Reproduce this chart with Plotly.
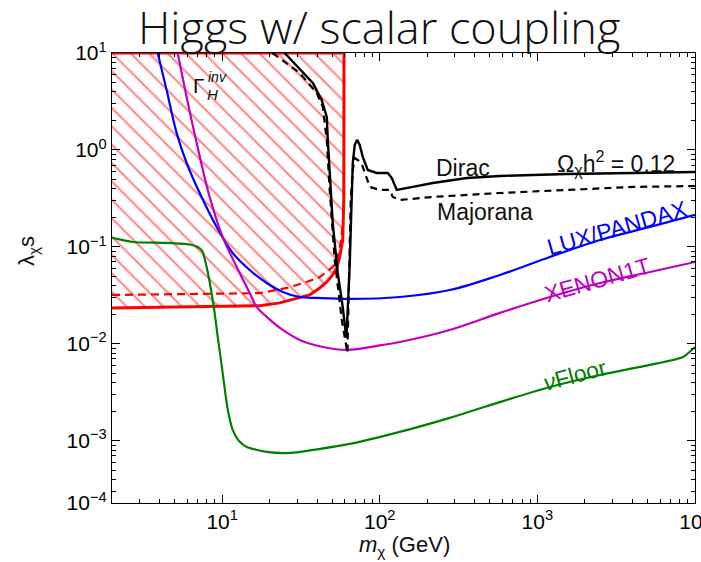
import plotly.graph_objects as go

# ---------------- data ----------------
# Higgs invisible width bound (solid = Dirac, dashed = Majorana)
inv_dirac_m = [2, 7.2, 17.3, 23.2, 31.05, 35.9, 41.6, 46.1, 50.3, 53.3, 55.7, 58.2, 59.1, 59.3]
inv_dirac_lam = [0.0235, 0.0241, 0.0248, 0.0265, 0.0298, 0.0320, 0.0378, 0.0436, 0.0514,
                 0.0608, 0.0788, 0.1181, 0.305, 10]
inv_major_m = [2, 17.3, 25.7, 34.4, 41.6, 50.3, 54.1, 56.5, 58.2]
inv_major_lam = [0.0320, 0.0334, 0.0378, 0.0436, 0.0490, 0.0622, 0.0788, 0.1100, 0.1685]

# relic density Omega h^2 = 0.12
dirac_m = [24.9, 34.4, 37.6, 42.8, 46.1, 46.8, 48.1, 50.3, 54.1, 58.2, 60.8, 61.45, 64.5, 66.1,
           67.4, 69.4, 71.8, 74.6, 78.0, 83.9, 95.7, 112.4, 119.2, 128.2, 140, 162, 217, 357,
           578, 1539, 4040, 10000]
dirac_lam = [10, 5.66, 4.91, 3.28, 2.19, 1.27, 0.579, 0.1768, 0.0540, 0.0241, 0.01298, 0.01153,
             0.0684, 0.328, 0.734, 1.13, 1.27, 1.13, 0.847, 0.622, 0.579, 0.579, 0.514, 0.387,
             0.396, 0.416, 0.457, 0.514, 0.540, 0.566, 0.579, 0.593]
major_m = [20.9, 31.05, 39.8, 43.5, 46.1, 48.1, 51.8, 57.4, 62.35, 65.4, 67.4, 69.4, 72.5, 76.5,
           86.4, 100, 115.7, 120.9, 134, 217, 578, 1539, 4040, 10000]
major_lam = [10, 6.22, 3.87, 2.78, 1.27, 0.387, 0.0735, 0.0177, 0.00808, 0.305, 0.622, 0.827,
             0.789, 0.734, 0.416, 0.387, 0.387, 0.328, 0.305, 0.328, 0.360, 0.387, 0.416, 0.425]

# direct detection
lux_m = [3.90, 4.44, 5.14, 5.95, 7.20, 9.23, 11.66, 14.95, 19.17, 24.23, 31.05, 39.8, 64.5, 134,
         278, 578, 1200, 2495, 5180, 10000]
lux_lam = [10, 4.16, 1.50, 0.734, 0.360, 0.161, 0.0867, 0.0579, 0.0425, 0.0344, 0.0305, 0.0298,
           0.0291, 0.0305, 0.0360, 0.0514, 0.0788, 0.1181, 0.161, 0.214]
xe_m = [5.22, 5.95, 6.89, 8.33, 10.07, 12.37, 14.95, 16.56, 19.17, 24.23, 31.05, 43.5, 61.7, 104.5,
        134, 278, 578, 1200, 2495, 5180, 10000]
xe_lam = [10, 3.52, 1.18, 0.328, 0.1268, 0.0622, 0.0336, 0.0241, 0.0190, 0.01394, 0.01100, 0.00931,
          0.00867, 0.00977, 0.01048, 0.01394, 0.0209, 0.0305, 0.0425, 0.0552, 0.0700]
nu_m = [2, 2.70, 4.44, 6.22, 7.0, 7.5, 7.97, 8.3, 8.58, 8.96, 9.36, 9.8, 10.3, 10.8, 11.66, 12.8,
        14.31, 19.17, 26.8, 64.5, 134, 278, 640, 1200, 2495, 5180, 8390, 10000]
nu_lam = [0.1239, 0.1126, 0.1100, 0.1060, 0.1000, 0.0900, 0.0622, 0.0450, 0.0330, 0.0209, 0.0120,
          0.00700, 0.00380, 0.00220, 0.00130, 0.00100, 0.000867, 0.000770, 0.000752, 0.000931,
          0.00124, 0.00173, 0.00265, 0.00360, 0.00479, 0.00608, 0.00734, 0.00931]

x_ticks = [10, 100, 1000, 10000]
x_ticktext = ["10<sup>1</sup>", "10<sup>2</sup>", "10<sup>3</sup>", "10<sup>4</sup>"]
y_bottom = 2.29e-4
y_ticks = [y_bottom, 1e-3, 1e-2, 1e-1, 1, 10]
y_ticktext = ["10<sup>−4</sup>", "10<sup>−3</sup>", "10<sup>−2</sup>", "10<sup>−1</sup>",
              "10<sup>0</sup>", "10<sup>1</sup>"]

# ---------------- figure ----------------
RED = "#ff0000"
BLUE = "#0000ff"
MAG = "#c000c0"
GREEN = "#008000"

fig = go.Figure()

# hatched excluded region
fig.add_trace(go.Scatter(
    x=inv_dirac_m + [2], y=inv_dirac_lam + [10],
    mode="lines", fill="toself",
    fillcolor="rgba(0,0,0,0)",
    fillpattern=dict(shape="\\", fgcolor="#ff1010", bgcolor="rgba(0,0,0,0)",
                     size=13, solidity=0.16, fillmode="overlay"),
    line=dict(color=RED, width=3), hoverinfo="skip"))
fig.add_trace(go.Scatter(x=inv_major_m, y=inv_major_lam, mode="lines",
                         line=dict(color=RED, width=2.2, dash="8px,5px")))

fig.add_trace(go.Scatter(x=nu_m, y=nu_lam, mode="lines", line_shape="spline",
                         line=dict(color=GREEN, width=2.2, smoothing=0.6)))
fig.add_trace(go.Scatter(x=lux_m, y=lux_lam, mode="lines", line_shape="spline",
                         line=dict(color=BLUE, width=2.2)))
fig.add_trace(go.Scatter(x=xe_m, y=xe_lam, mode="lines", line_shape="spline",
                         line=dict(color=MAG, width=2.2)))
fig.add_trace(go.Scatter(x=major_m, y=major_lam, mode="lines",
                         line=dict(color="black", width=2.2, dash="7px,5px")))
fig.add_trace(go.Scatter(x=dirac_m, y=dirac_lam, mode="lines",
                         line=dict(color="black", width=2.4)))

x_minor = [k * 10 ** e for e in range(0, 4) for k in range(2, 10) if k * 10 ** e > 2]
y_minor = [k * 10.0 ** e for e in range(-4, 1) for k in range(2, 10) if k * 10.0 ** e > y_bottom]

axis_common = dict(showline=True, linecolor="black", linewidth=1.2, mirror="ticks",
                   ticks="inside", ticklen=8, tickwidth=1, tickcolor="black",
                   showgrid=False, zeroline=False, ticklabeloverflow="allow", automargin=False,
                   tickfont=dict(family="Liberation Sans, Arial, sans-serif", size=21, color="black"))

fig.update_xaxes(type="log", range=[0.30103, 4], tickmode="array", tickvals=x_ticks,
                 ticktext=x_ticktext,
                 minor=dict(tickvals=x_minor, ticks="inside", ticklen=4, tickcolor="black",
                            showgrid=False),
                 **axis_common)
fig.update_yaxes(type="log", range=[-3.64, 1], tickmode="array", tickvals=y_ticks,
                 ticktext=y_ticktext,
                 minor=dict(tickvals=y_minor, ticks="inside", ticklen=4, tickcolor="black",
                            showgrid=False),
                 **axis_common)

TF = "Liberation Sans, Arial, sans-serif"
ann = []


def add(text, x, y, size=23, color="#111", angle=0, family=TF, weight=None):
    f = dict(family=family, size=size, color=color)
    if weight:
        f["weight"] = weight
    ann.append(dict(text=text, x=x, y=y, xref="paper", yref="paper", showarrow=False,
                    xanchor="center", yanchor="middle", textangle=angle, font=f))


add("Higgs w/ scalar coupling", 0.458, 1.058, size=45, color="#111",
    family="Open Sans, Liberation Sans, sans-serif", weight=300)
add("Γ", 0.149, 0.927, size=21)
add("<i>inv</i>", 0.181, 0.946, size=14)
add("<i>H</i>", 0.172, 0.907, size=15)
add("Dirac", 0.602, 0.744)
add("Ω<sub>χ</sub>h<sup>2</sup> = 0.12", 0.865, 0.755)
add("Majorana", 0.640, 0.647)
add("LUX/PANDAX", 0.866, 0.611, color=BLUE, angle=-16)
add("XENON1T", 0.832, 0.496, color=MAG, angle=-16)
add("<i>ν</i>Floor", 0.794, 0.284, color=GREEN, angle=-15)
add("<i>m</i><sub>χ</sub> (GeV)", 0.501, -0.095, size=22)
add("λ<sub>χ</sub>s", -0.144, 0.56, size=22, angle=-90)

fig.update_layout(width=701, height=562, margin=dict(l=112, r=6, t=53, b=59),
                  paper_bgcolor="white", plot_bgcolor="white", showlegend=False,
                  annotations=ann)

fig.write_html("out.html")
